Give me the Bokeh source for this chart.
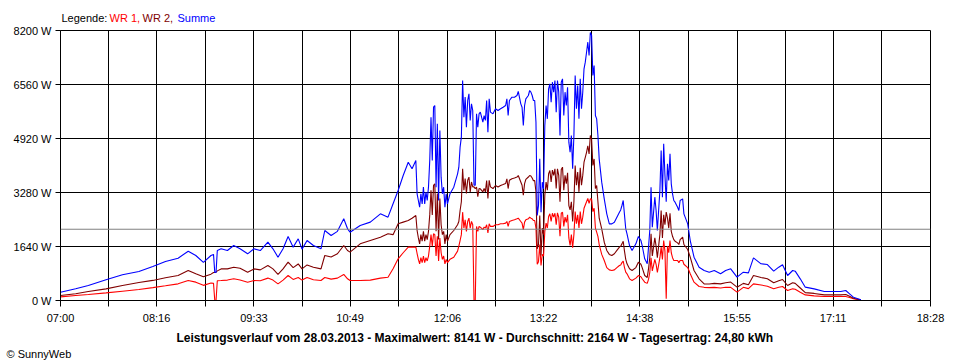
from bokeh.plotting import figure
from bokeh.models import Range1d, FixedTicker, Span, Title
from bokeh.layouts import column
from bokeh.core.properties import value
from bokeh.embed import file_html
from bokeh.resources import INLINE

# ---------------- data ----------------
series_names = ["WR 1", "WR 2", "Summe"]
series_colors = ["#ff0000", "#800000", "#0000ff"]

times = [
    "07:00", "07:12", "07:22", "07:36", "07:49", "08:02", "08:13", "08:23", "08:33", "08:41",
    "08:47", "08:53", "08:59", "09:01", "09:02", "09:03", "09:04", "09:07", "09:12", "09:17",
    "09:22", "09:28", "09:33", "09:38", "09:44", "09:48", "09:52", "09:56", "10:00", "10:04",
    "10:08", "10:11", "10:15", "10:20", "10:26", "10:29", "10:34", "10:39", "10:44", "10:47",
    "10:49", "10:57", "11:05", "11:13", "11:19", "11:23", "11:27", "11:31", "11:35", "11:38",
    "11:41", "11:42", "11:43", "11:44", "11:45", "11:46", "11:47", "11:48", "11:49", "11:50",
    "11:51", "11:52", "11:53", "11:54", "11:55", "11:56", "11:57", "11:58", "11:59", "12:00",
    "12:01", "12:02", "12:03", "12:04", "12:05", "12:06", "12:08", "12:11", "12:14", "12:15",
    "12:16", "12:17", "12:18", "12:19", "12:20", "12:21", "12:22", "12:23", "12:24", "12:25",
    "12:26", "12:27", "12:28", "12:29", "12:30", "12:31", "12:32", "12:34", "12:35", "12:36",
    "12:37", "12:38", "12:39", "12:40", "12:42", "12:44", "12:46", "12:48", "12:50", "12:52",
    "12:53", "12:54", "12:55", "12:57", "12:59", "13:01", "13:02", "13:04", "13:05", "13:06",
    "13:07", "13:08", "13:10", "13:11", "13:12", "13:13", "13:14", "13:15", "13:16", "13:17",
    "13:18", "13:19", "13:20", "13:21", "13:22", "13:23", "13:24", "13:25", "13:26", "13:27",
    "13:28", "13:29", "13:30", "13:31", "13:32", "13:33", "13:34", "13:35", "13:36", "13:37",
    "13:38", "13:39", "13:40", "13:41", "13:42", "13:43", "13:44", "13:45", "13:46", "13:47",
    "13:48", "13:49", "13:50", "13:51", "13:52", "13:53", "13:54", "13:55", "13:56", "13:57",
    "13:58", "13:59", "14:00", "14:01", "14:02", "14:03", "14:04", "14:05", "14:06", "14:08",
    "14:10", "14:12", "14:14", "14:16", "14:18", "14:20", "14:22", "14:23", "14:24", "14:25",
    "14:26", "14:27", "14:28", "14:30", "14:32", "14:35", "14:37", "14:39", "14:40", "14:42",
    "14:44", "14:45", "14:46", "14:47", "14:48", "14:50", "14:51", "14:52", "14:54", "14:55",
    "14:56", "14:57", "14:58", "14:59", "15:00", "15:01", "15:02", "15:03", "15:04", "15:05",
    "15:06", "15:08", "15:09", "15:10", "15:12", "15:13", "15:16", "15:18", "15:21", "15:25",
    "15:29", "15:33", "15:37", "15:42", "15:46", "15:50", "15:55", "16:00", "16:04", "16:08",
    "16:14", "16:19", "16:24", "16:28", "16:31", "16:35", "16:39", "16:41", "16:45", "16:49",
    "16:56", "17:04", "17:17", "17:21", "17:24", "17:27", "17:33",
]

summe_w = [
    250, 355, 455, 628, 780, 880, 1033, 1184, 1285, 1498,
    1367, 1160, 1367, 1400, 850, 850, 1520, 1570, 1518, 1670,
    1570, 1418, 1570, 1518, 1771, 1570, 1316, 1570, 1944, 1620,
    1873, 1560, 1822, 1670, 1570, 2126, 1974, 2100, 2481, 2177,
    2075, 2278, 2380, 2633, 2531, 2937, 3341, 3796, 4200, 4000,
    4252, 3240, 3037, 2834, 3240, 2935, 3442, 2935, 3290, 3037,
    3442, 4252, 5568, 4252, 5871, 5922, 3442, 5365, 3037, 5163,
    3746, 3240, 3442, 2834, 3240, 2935, 3240, 3442, 3847, 4049,
    4657, 4960, 6681, 5568, 6176, 5264, 6074, 6277, 5467, 5973,
    5770, 3500, 3500, 5669, 5264, 5669, 5720, 5416, 5618, 5467,
    6074, 5112, 6125, 5720, 5669, 5821, 5770, 5821, 5871, 5922,
    6125, 5618, 6074, 6175, 6175, 6226, 6348, 5973, 5871, 5315,
    5922, 6125, 6226, 6378, 6327, 6226, 6074, 6074, 5416, 2581,
    2885, 4302, 2683, 3594, 3391, 5315, 5922, 5517, 6428, 6580,
    6023, 6631, 6327, 6681, 5720, 6681, 6327, 5011, 6631, 6732,
    5618, 6327, 5922, 6479, 4808, 4505, 5011, 3999, 5011, 6833,
    5821, 6530, 5517, 6732, 5821, 6327, 7036, 7238, 7541, 7845,
    7441, 8141, 8048, 6833, 7137, 5618, 5517, 5011, 4302, 3594,
    3087, 2632, 2328, 2328, 2379, 2531, 2683, 2750, 2885, 3037,
    2600, 2176, 2024, 1670, 1518, 1721, 1944, 1822, 1670, 1265,
    1114, 1619, 2126, 3442, 2227, 3138, 2733, 2126, 3341, 4556,
    3138, 4758, 3800, 3000, 4150, 3645, 4454, 3543, 3239, 3037,
    2986, 2834, 2733, 3037, 3087, 2632, 2328, 1822, 1316, 1012,
    911, 860, 911, 810, 911, 962, 708, 860, 840, 1296,
    1114, 1093, 891, 1012, 1083, 759, 911, 891, 658, 405,
    354, 273, 273, 304, 203, 101, 20,
]

wr2_w = [
    150, 203, 273, 354, 455, 547, 610, 689, 759, 911,
    810, 720, 800, 850, 850, 860, 900, 960, 960, 1012,
    980, 860, 960, 930, 1063, 960, 790, 960, 1164, 1000,
    1110, 960, 1080, 1012, 960, 1367, 1320, 1420, 1670, 1518,
    1470, 1721, 1822, 1920, 2025, 2000, 2329, 2380, 2430, 2500,
    2582, 2126, 1900, 1721, 2000, 1800, 2100, 1800, 2000, 1850,
    2100, 2600, 3350, 2600, 3500, 3544, 2100, 3250, 1850, 3100,
    2300, 2000, 2100, 1721, 2000, 1800, 2000, 2126, 2300, 2400,
    2733, 3000, 4000, 3350, 3700, 3250, 3650, 3746, 3300, 3600,
    3450, 3450, 3400, 3442, 3150, 3400, 3392, 3300, 3400, 3300,
    3645, 3100, 3650, 3450, 3400, 3493, 3450, 3493, 3520, 3550,
    3695, 3400, 3650, 3700, 3720, 3750, 3796, 3600, 3500, 3200,
    3550, 3680, 3750, 3796, 3780, 3720, 3640, 3640, 3300, 1570,
    1700, 2580, 1367, 2200, 2000, 3200, 3594, 3350, 3850, 3948,
    3600, 3960, 3800, 4000, 3400, 4000, 3800, 3000, 3980, 4050,
    3350, 3800, 3550, 3880, 2885, 2750, 3000, 2400, 3000, 4100,
    3500, 3900, 3300, 4030, 3500, 3800, 4200, 4350, 4500, 4700,
    4450, 5011, 4900, 4100, 4300, 3400, 3493, 3000, 2500, 2177,
    1770, 1520, 1400, 1367, 1420, 1520, 1620, 1650, 1720, 1800,
    1500, 1250, 1113, 962, 911, 1000, 1164, 1100, 1000, 759,
    700, 960, 1300, 2025, 1350, 1900, 1650, 1300, 2000, 2733,
    1900, 2600, 2300, 2683, 2500, 2200, 2650, 2100, 1950, 1850,
    1800, 1750, 1700, 1850, 1924, 1700, 1550, 1316, 911, 658,
    506, 500, 520, 506, 540, 560, 405, 520, 480, 759,
    700, 658, 537, 600, 638, 455, 540, 520, 380, 240,
    215, 172, 172, 180, 130, 70, 15,
]

wr1_w = [
    110, 152, 182, 233, 283, 334, 390, 446, 506, 607,
    557, 460, 530, 520, 0, 0, 600, 607, 620, 658,
    620, 557, 607, 600, 680, 620, 506, 620, 759, 640,
    700, 620, 700, 628, 607, 700, 650, 680, 790, 660,
    607, 607, 620, 680, 708, 962, 1266, 1450, 1620, 1620,
    1620, 1427, 1250, 1113, 1300, 1150, 1350, 1150, 1300, 1200,
    1350, 1650, 2000, 1650, 2025, 2000, 1350, 1950, 1200, 1900,
    1450, 1250, 1350, 1113, 1250, 1150, 1250, 1316, 1500, 1650,
    1822, 2000, 2683, 2200, 2450, 2100, 2400, 2500, 2200, 2400,
    2300, 0, 0, 2250, 2100, 2250, 2227, 2150, 2230, 2200,
    2300, 2050, 2330, 2250, 2250, 2300, 2300, 2329, 2329, 2350,
    2400, 2250, 2400, 2430, 2450, 2481, 2500, 2400, 2350, 2150,
    2380, 2450, 2480, 2530, 2500, 2480, 2430, 2430, 2200, 1100,
    1180, 1700, 1063, 1400, 1350, 2100, 2350, 2200, 2550, 2633,
    2400, 2650, 2530, 2650, 2300, 2660, 2530, 1950, 2650, 2680,
    2250, 2530, 2370, 2600, 1900, 1670, 2000, 1600, 2000, 2700,
    2330, 2600, 2200, 2700, 2330, 2530, 2800, 2900, 3000, 3100,
    2950, 3088, 3080, 2700, 2800, 2200, 2075, 1950, 1700, 1400,
    1215, 1000, 930, 911, 930, 1000, 1063, 1080, 1150, 1200,
    1000, 860, 810, 658, 607, 680, 759, 720, 660, 557,
    520, 640, 850, 1300, 900, 1250, 1100, 850, 1300, 1620,
    1250, 1822, 1500, 51, 1650, 1450, 1822, 1450, 1300, 1215,
    1215, 1215, 1150, 1215, 1215, 1100, 1000, 810, 557, 425,
    400, 390, 400, 380, 400, 400, 253, 400, 360, 506,
    470, 435, 354, 400, 425, 304, 354, 340, 250, 170,
    140, 121, 121, 121, 90, 51, 10,
]

x_tick_labels = ["07:00", "08:16", "09:33", "10:49", "12:06",
                 "13:22", "14:38", "15:55", "17:11", "18:28"]
y_ticks = [0, 1640, 3280, 4920, 6560, 8200]
avg_w = 2164
title_text = ("Leistungsverlauf vom 28.03.2013 - Maximalwert: 8141 W - "
              "Durchschnitt: 2164 W - Tagesertrag: 24,80 kWh")
copyright_text = "\u00a9 SunnyWeb"

assert len(times) == len(summe_w) == len(wr2_w) == len(wr1_w)


def to_min(s):
    h, m = s.split(":")
    return (int(h) - 7) * 60 + int(m)


t = [to_min(s) for s in times]
xt = [to_min(s) for s in x_tick_labels]
xminor = [(a + b) / 2 for a, b in zip(xt[:-1], xt[1:])]

FONT = "Liberation Sans"
W = 960
LEFT, RIGHT = 60, 30

# ---------- top strip: coloured legend text ----------
# (its frame is aligned with the chart frame, so the x range maps to page pixels)
top = figure(width=W, height=24, x_range=Range1d(LEFT, W - RIGHT), y_range=Range1d(0, 24),
             output_backend="svg", toolbar_location=None,
             x_axis_type=None, y_axis_type=None,
             min_border_left=LEFT, min_border_right=RIGHT,
             min_border_top=0, min_border_bottom=0)
top.outline_line_color = None
top.background_fill_color = "white"
top.border_fill_color = "white"
top.grid.visible = False
legend_parts = ["Legende:", series_names[0] + ",", series_names[1] + ",", series_names[2]]
legend_cols = ["black"] + series_colors
top.text(x=[61, 109, 142, 177], y=[7, 7, 7, 7], text=legend_parts, text_color=legend_cols,
         text_font=value(FONT), text_font_size=value("11px"),
         text_baseline="middle", text_align="left")

# ---------- main chart ----------
p = figure(frame_width=870, frame_height=270,
           x_range=Range1d(xt[0], xt[-1]),
           y_range=Range1d(y_ticks[0], y_ticks[-1]),
           output_backend="svg", toolbar_location=None,
           min_border_left=LEFT, min_border_right=RIGHT,
           min_border_top=6, min_border_bottom=20)
p.background_fill_color = "white"
p.border_fill_color = "white"
p.outline_line_color = "black"

xticker = FixedTicker(ticks=xt, minor_ticks=xminor)
p.xaxis.ticker = xticker
p.xgrid.ticker = xticker
p.xaxis.major_label_overrides = {v: s for v, s in zip(xt, x_tick_labels)}
p.xaxis.major_tick_out = 6
p.xaxis.major_tick_in = 0
p.xaxis.minor_tick_out = 6
p.xaxis.minor_tick_in = 0
p.xaxis.minor_tick_line_color = "black"
p.xaxis.major_label_standoff = 5
p.xgrid.grid_line_color = "black"
p.xgrid.minor_grid_line_color = "black"

yticker = FixedTicker(ticks=y_ticks)
p.yaxis.ticker = yticker
p.ygrid.ticker = yticker
p.yaxis.major_label_overrides = {v: f"{v} W" for v in y_ticks}
p.yaxis.major_tick_out = 5
p.yaxis.major_tick_in = 0
p.yaxis.minor_tick_line_color = None
p.yaxis.major_label_standoff = 4
p.ygrid.grid_line_color = "black"

for ax in (p.xaxis, p.yaxis):
    ax.axis_line_color = "black"
    ax.major_tick_line_color = "black"
    ax.major_label_text_font = FONT
    ax.major_label_text_font_size = "11px"
    ax.major_label_text_color = "black"

for vals, col in zip([wr1_w, wr2_w, summe_w], series_colors):
    p.line(t, vals, line_color=col, line_width=1.1)

p.add_layout(Span(location=avg_w, dimension="width",
                  line_color="#808080", line_width=1))

# summary line and copyright below the x axis
p.add_layout(Title(text=title_text, align="left", offset=176 - LEFT,
                   text_font=FONT, text_font_size="12px", text_font_style="bold",
                   text_color="black", standoff=5, vertical_align="bottom"), "below")
p.add_layout(Title(text=copyright_text, align="left", offset=6 - LEFT,
                   text_font=FONT, text_font_size="11px", text_font_style="normal",
                   text_color="black", standoff=0, vertical_align="top"), "below")

layout = column(top, p, spacing=0)

with open("out.html", "w", encoding="utf-8") as f:
    f.write(file_html(layout, INLINE))
